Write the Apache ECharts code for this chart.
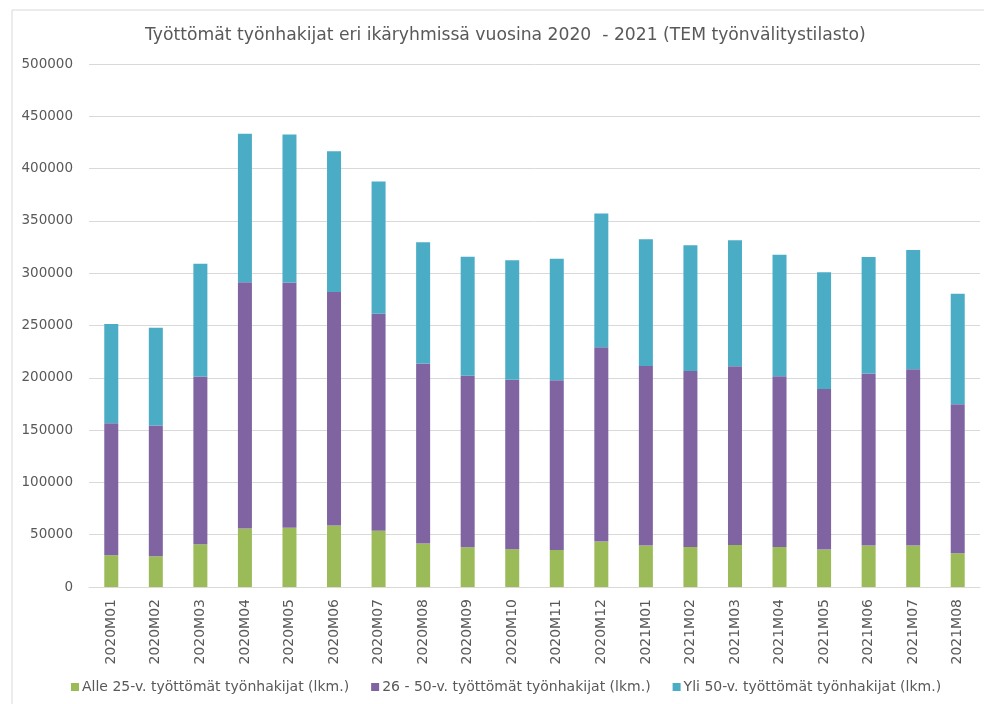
<!DOCTYPE html>
<html>
<head>
<meta charset="utf-8">
<script src="https://cdn.jsdelivr.net/npm/echarts@6/dist/echarts.min.js"></script>
<style>
  html, body { margin: 0; padding: 0; background: #fff; }
  #myChart { width: 984px; height: 704px; }
</style>
</head>
<body>
<div id="myChart"></div>
<script>
var months = ['2020M01', '2020M02', '2020M03', '2020M04', '2020M05', '2020M06', '2020M07', '2020M08', '2020M09', '2020M10',
    '2020M11', '2020M12', '2021M01', '2021M02', '2021M03', '2021M04', '2021M05', '2021M06', '2021M07', '2021M08'];
var seriesNames = ['Alle 25-v. työttömät työnhakijat (lkm.)', '26 - 50-v. työttömät työnhakijat (lkm.)', 'Yli 50-v. työttömät työnhakijat (lkm.)'];
var alle25 = [30350, 29400, 40900, 55900, 56550, 58800, 53700, 41550, 38000, 36100,
    35450, 43400, 39600, 38300, 40250, 38300, 35750, 39600, 39600, 32250];
var v26to50 = [126200, 124900, 160400, 235500, 234500, 223300, 207650, 172200, 163900, 162000,
    162200, 185850, 171800, 168300, 170800, 163200, 153600, 164400, 168600, 142400];
var yli50 = [94900, 93600, 107650, 141850, 141550, 134500, 126200, 115950, 113750, 114350,
    116250, 127750, 121000, 120050, 120400, 116200, 111450, 111450, 113950, 105700];

var colors = ['#9BBB59', '#8064A2', '#4BACC6'];
var font = 'DejaVu Sans';

var myChart = echarts.init(document.getElementById('myChart'));

function barSeries(name, data) {
    return {
        name: name,
        type: 'bar',
        stack: 'total',
        barWidth: 14,
        data: data
    };
}

var option = {
    animation: false,
    color: colors,
    title: {
        text: 'Työttömät työnhakijat eri ikäryhmissä vuosina 2020  - 2021 (TEM työnvälitystilasto)',
        left: 140,
        top: 22,
        textStyle: { fontFamily: font, fontSize: 17.2, fontWeight: 'normal', color: '#595959' }
    },
    legend: {
        data: seriesNames,
        bottom: 5,
        left: 66,
        itemWidth: 8,
        itemHeight: 8,
        itemGap: 22,
        icon: 'rect',
        textStyle: { fontFamily: font, fontSize: 14, color: '#595959', padding: [0, 0, 0, -2] }
    },
    grid: { left: 89, right: 4, top: 64, bottom: 117 },
    xAxis: {
        type: 'category',
        data: months,
        axisTick: { show: false },
        axisLine: { lineStyle: { color: '#d9d9d9', width: 1 } },
        axisLabel: { rotate: 90, margin: 12, fontFamily: font, fontSize: 14, color: '#595959' }
    },
    yAxis: {
        type: 'value',
        min: 0,
        max: 500000,
        interval: 50000,
        axisLine: { show: false },
        axisTick: { show: false },
        splitLine: { lineStyle: { color: '#d9d9d9', width: 1 } },
        axisLabel: {
            margin: 16, fontFamily: font, fontSize: 13.5, color: '#595959',
            formatter: function (v) { return String(v); }
        }
    },
    graphic: [{
        type: 'rect',
        shape: { x: 12, y: 10, width: 1000, height: 1000 },
        style: { fill: 'none', stroke: '#d9d9d9', lineWidth: 1 },
        silent: true
    }],
    series: [
        barSeries(seriesNames[0], alle25),
        barSeries(seriesNames[1], v26to50),
        barSeries(seriesNames[2], yli50)
    ]
};
myChart.setOption(option);
</script>
</body>
</html>
